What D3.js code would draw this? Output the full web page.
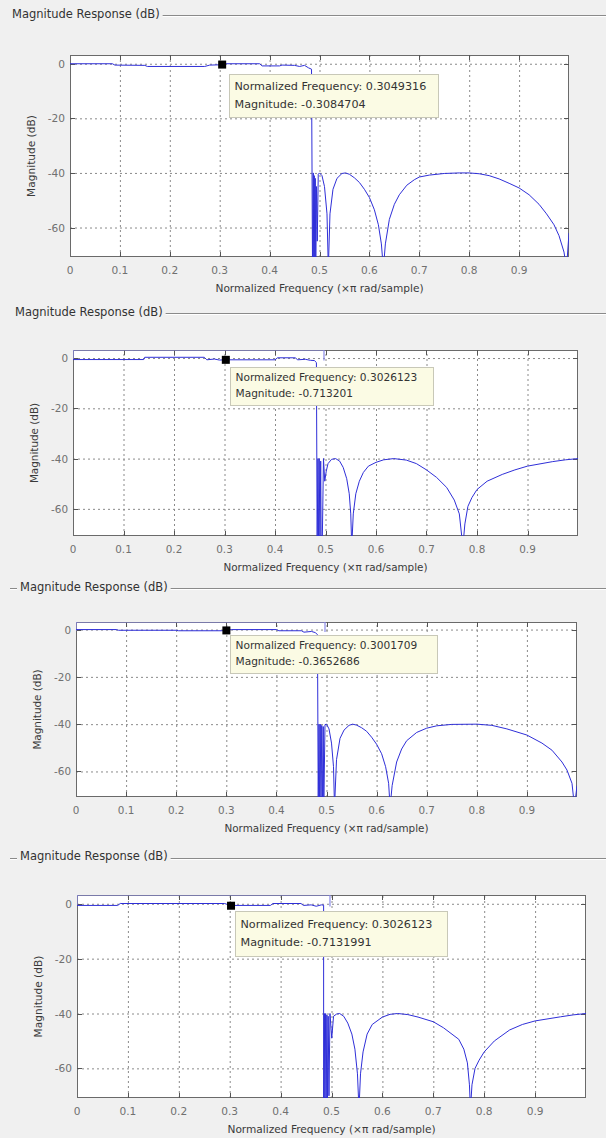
<!DOCTYPE html>
<html>
<head>
<meta charset="utf-8">
<script src="https://cdn.jsdelivr.net/npm/d3@7/dist/d3.min.js"></script>
<style>
  html, body { margin: 0; padding: 0; background: #f0f0f0; }
  svg { display: block; }
  text { font-family: "DejaVu Sans", sans-serif; }
</style>
</head>
<body>
<div id="chart"></div>
<script>
// axis ticks
var xTicks = [0, 0.1, 0.2, 0.3, 0.4, 0.5, 0.6, 0.7, 0.8, 0.9];
var yTicks = [0, -20, -40, -60];
var yDomain = [-70.8, 3.2];

var titleText = "Magnitude Response (dB)";
var xLabelText = "Normalized Frequency (\u00d7\u03c0 rad/sample)";
var yLabelText = "Magnitude (dB)";

// panel 1
var p1Freq = [0, 0.085, 0.09, 0.15, 0.155, 0.27, 0.28, 0.3, 0.305, 0.31, 0.38, 0.385, 0.42, 0.425, 0.45, 0.46, 0.47, 0.478, 0.484,
  0.486, 0.4875, 0.4885, 0.4895, 0.4905, 0.4915, 0.4925, 0.494, 0.4955, 0.4975, 0.5, 0.505, 0.51, 0.515, 0.5177,
  0.521, 0.527, 0.535, 0.545, 0.552, 0.56, 0.57, 0.58, 0.59, 0.6, 0.61, 0.618, 0.624, 0.628,
  0.632, 0.64, 0.65, 0.66, 0.675, 0.69, 0.7, 0.72, 0.75, 0.78, 0.8, 0.82, 0.84, 0.86, 0.88, 0.9, 0.92, 0.94, 0.955, 0.97, 0.98, 0.99, 0.995, 1.0];
var p1Mag = [0, 0, -0.5, -0.6, -1.0, -1.0, -0.5, -0.4, -0.31, 0, 0, -0.8, -0.8, -0.5, -0.6, -1.0, -0.6, -1.5, -2.0,
  -75, -40, -75, -41, -75, -42, -75, -45, -65, -40.5, -40, -41, -45, -55, -75,
  -55, -46, -42, -40.2, -40, -40.5, -41.8, -43.5, -46, -49, -53.5, -59, -66, -75,
  -66, -57, -51.5, -48, -44.5, -42.5, -41.5, -40.8, -40.2, -40, -40, -40.3, -41, -42.2, -43.8, -45.5, -48, -51.5, -55, -59, -63, -69, -75, -62];

// panel 2
var p2Freq = [0, 0.14, 0.142, 0.26, 0.265, 0.28, 0.29, 0.3026, 0.31, 0.4, 0.405, 0.44, 0.445, 0.46, 0.47, 0.478, 0.482,
  0.4835, 0.485, 0.486, 0.4875, 0.489, 0.4905, 0.4915, 0.4935, 0.496, 0.4985, 0.5015, 0.505, 0.512, 0.52, 0.528, 0.535, 0.542, 0.547, 0.55, 0.552,
  0.555, 0.56, 0.567, 0.575, 0.585, 0.6, 0.615, 0.635, 0.66, 0.68, 0.7, 0.72, 0.74, 0.755, 0.765, 0.772,
  0.776, 0.782, 0.79, 0.8, 0.82, 0.85, 0.875, 0.9, 0.95, 0.975, 1.0];
var p2Mag = [-0.6, -0.6, 0.3, 0.3, -0.7, -0.4, -0.8, -0.71, -0.7, -0.7, 0.1, 0.1, -0.7, -0.5, -0.9, -1.0, -1.8,
  -75, -40, -75, -40, -75, -41, -75, -75, -40, -49, -45, -42, -40.3, -40, -41, -43.5, -48, -54, -62, -75,
  -62, -54, -49, -45.5, -43, -41.5, -40.5, -40, -40.6, -42, -44.5, -47.5, -51.5, -56.5, -62, -75,
  -66, -59, -55.5, -52.3, -49, -46.3, -44.5, -43, -41.2, -40.5, -40];

// panel 3
var p3Freq = [0, 0.08, 0.085, 0.2, 0.205, 0.29, 0.3, 0.31, 0.4, 0.405, 0.45, 0.455, 0.47, 0.478, 0.482,
  0.4835, 0.485, 0.486, 0.4875, 0.489, 0.4905, 0.492, 0.4935, 0.4946, 0.497, 0.5, 0.505, 0.51, 0.514, 0.516,
  0.52, 0.527, 0.535, 0.545, 0.552, 0.56, 0.57, 0.58, 0.59, 0.6, 0.61, 0.618, 0.624, 0.627,
  0.631, 0.64, 0.65, 0.66, 0.68, 0.7, 0.72, 0.75, 0.8, 0.83, 0.86, 0.9, 0.93, 0.95, 0.97, 0.98, 0.99, 0.995, 1.0];
var p3Mag = [0, 0, -0.3, -0.3, -0.5, -0.5, -0.37, 0, 0, -0.5, -0.5, -1.1, -0.8, -1.3, -2.2,
  -75, -40, -75, -40, -75, -40.5, -75, -41, -75, -40.2, -40, -42, -48, -58, -75,
  -55, -46, -42.5, -40.5, -40, -40.4, -41.5, -43, -45.5, -48.5, -52.5, -58, -65, -75,
  -66, -56, -50.5, -47, -43.5, -41.7, -40.7, -40.1, -40, -40.5, -42, -44.6, -48, -51, -56, -59.4, -65, -75, -66];

// panel 4
var p4Freq = [0, 0.08, 0.085, 0.29, 0.3026, 0.31, 0.38, 0.385, 0.44, 0.445, 0.46, 0.47, 0.48, 0.4845,
  0.4846, 0.486, 0.487, 0.4885, 0.4895, 0.491, 0.492, 0.4935, 0.495, 0.497, 0.5005, 0.504, 0.51, 0.516, 0.524, 0.532, 0.54, 0.546, 0.551, 0.554,
  0.557, 0.562, 0.57, 0.58, 0.6, 0.615, 0.63, 0.65, 0.67, 0.7, 0.72, 0.75, 0.76, 0.767, 0.771, 0.773,
  0.776, 0.782, 0.79, 0.8, 0.82, 0.85, 0.875, 0.9, 0.95, 0.975, 1.0];
var p4Mag = [-0.6, -0.6, 0.1, 0.1, -0.71, -0.6, -0.6, 0.1, 0.1, -0.6, -0.4, -0.9, -0.4, -0.5,
  -75, -40, -72, -40, -72, -40.5, -72, -41, -70, -40, -49, -41, -40.2, -40, -41, -43.5, -47.5, -53, -62, -75,
  -62, -54, -47.5, -44, -41.3, -40.3, -40, -40.4, -41.3, -43, -45.2, -49.4, -53, -58, -66, -75,
  -66, -60, -57, -54, -50, -46, -44, -42.7, -41.2, -40.5, -40];

// faint trace that runs along the top of panels 2-4
var upperFreq = [0, 0, 0.497, 0.497];
var upperMag = [-0.6, 3.2, 3.2, -1];

// data tips
var tipFreq = [0.3049316, 0.3026123, 0.3001709, 0.3026123];
var tipMag = [-0.3084704, -0.713201, -0.3652686, -0.7131991];
var tipFreqText = ["0.3049316", "0.3026123", "0.3001709", "0.3026123"];
var tipMagText = ["-0.3084704", "-0.713201", "-0.3652686", "-0.7131991"];

var width = 606, height = 1138;

var panels = [
  { freq: p1Freq, mag: p1Mag, box: [70, 55, 569, 257], titleX: 12, titleY: 13.5, lead: false, upper: false,
    tip: { dx: 7, dy: 9, w: 209, h: 43, font: 11.2 }, font: 10.6 },
  { freq: p2Freq, mag: p2Mag, box: [73, 350, 578, 536], titleX: 15, titleY: 311.5, lead: false, upper: true,
    tip: { dx: 4, dy: 7, w: 203, h: 38, font: 10.6 }, font: 10.4 },
  { freq: p3Freq, mag: p3Mag, box: [76, 622, 577, 797], titleX: 20, titleY: 586.5, lead: true, upper: true,
    tip: { dx: 4, dy: 5, w: 207, h: 38, font: 10.6 }, font: 10.4 },
  { freq: p4Freq, mag: p4Mag, box: [77, 895, 586, 1098], titleX: 20, titleY: 856, lead: true, upper: true,
    tip: { dx: 4, dy: 5, w: 212, h: 45, font: 11.2 }, font: 10.6 }
];

var svg = d3.select("#chart")
  .append("svg")
  .attr("width", width)
  .attr("height", height);

svg.append("rect")
  .attr("width", width)
  .attr("height", height)
  .attr("fill", "#f0f0f0");

panels.forEach(function (p, i) {
  var left = p.box[0], top = p.box[1], right = p.box[2], bottom = p.box[3];
  var w = right - left, h = bottom - top;

  var x = d3.scaleLinear().domain([0, 1]).range([left, right]);
  var y = d3.scaleLinear().domain(yDomain).range([bottom, top]);

  var g = svg.append("g").attr("class", "panel");

  // group box title with etched line
  var title = g.append("text")
    .attr("x", p.titleX)
    .attr("y", p.titleY + 4)
    .attr("font-size", 11.5)
    .attr("fill", "#333")
    .text(titleText);
  var tEnd = p.titleX + title.node().getComputedTextLength() + 3;
  var ly = Math.round(p.titleY + 1.5) + 0.5;
  var segs = [[tEnd, width]];
  if (p.lead) segs.push([10, p.titleX - 3]);
  segs.forEach(function (s) {
    g.append("line").attr("x1", s[0]).attr("x2", s[1]).attr("y1", ly).attr("y2", ly)
      .attr("stroke", "#8a8a8a");
    g.append("line").attr("x1", s[0]).attr("x2", s[1]).attr("y1", ly + 1).attr("y2", ly + 1)
      .attr("stroke", "#ffffff");
  });

  // plot area
  g.append("rect")
    .attr("x", left).attr("y", top)
    .attr("width", w).attr("height", h)
    .attr("fill", "#ffffff");

  // grid
  g.append("g")
    .attr("transform", "translate(0," + bottom + ")")
    .call(d3.axisBottom(x).tickValues(xTicks.slice(1)).tickSize(-h).tickFormat(""))
    .call(function (a) {
      a.select(".domain").remove();
      a.selectAll("line").attr("stroke", "#8a8a8a").attr("stroke-dasharray", "2,3");
    });
  g.append("g")
    .attr("transform", "translate(" + left + ",0)")
    .call(d3.axisLeft(y).tickValues(yTicks).tickSize(-w).tickFormat(""))
    .call(function (a) {
      a.select(".domain").remove();
      a.selectAll("line").attr("stroke", "#8a8a8a").attr("stroke-dasharray", "2,3");
    });

  // curve
  var clipId = "clip" + i;
  g.append("clipPath").attr("id", clipId)
    .append("rect").attr("x", left).attr("y", top).attr("width", w).attr("height", h);

  var line = d3.line()
    .x(function (d) { return x(d[0]); })
    .y(function (d) { return y(d[1]); });

  var pts = p.freq.map(function (f, k) { return [f, p.mag[k]]; });

  // box
  g.append("rect")
    .attr("x", left + 0.5).attr("y", top + 0.5)
    .attr("width", w - 1).attr("height", h - 1)
    .attr("fill", "none")
    .attr("stroke", "#6a6a6a");

  // inner tick marks
  var tk = g.append("g").attr("stroke", "#555");
  xTicks.slice(1).forEach(function (t) {
    var xx = Math.round(x(t)) + 0.5;
    tk.append("line").attr("x1", xx).attr("x2", xx).attr("y1", bottom).attr("y2", bottom - 5);
    tk.append("line").attr("x1", xx).attr("x2", xx).attr("y1", top).attr("y2", top + 5);
  });
  yTicks.forEach(function (t) {
    var yy = Math.round(y(t)) + 0.5;
    tk.append("line").attr("x1", left).attr("x2", left + 5).attr("y1", yy).attr("y2", yy);
    tk.append("line").attr("x1", right).attr("x2", right - 5).attr("y1", yy).attr("y2", yy);
  });

  if (p.upper) {
    var up = upperFreq.map(function (f, k) { return [f, upperMag[k]]; });
    g.append("path")
      .attr("d", line(up))
      .attr("clip-path", "url(#" + clipId + ")")
      .attr("fill", "none")
      .attr("stroke", "#8a8ae8")
      .attr("stroke-width", 1.2);
  }

  g.append("path")
    .attr("d", line(pts))
    .attr("clip-path", "url(#" + clipId + ")")
    .attr("fill", "none")
    .attr("stroke", "#2f2fd8")
    .attr("stroke-width", 1)
    .attr("stroke-linejoin", "round");

  // tick labels
  g.append("g").selectAll("text")
    .data(xTicks)
    .join("text")
    .attr("x", function (d) { return x(d); })
    .attr("y", bottom + 17)
    .attr("text-anchor", "middle")
    .attr("font-size", p.font)
    .attr("fill", "#707070")
    .text(function (d) { return d3.format("")(d); });

  g.append("g").selectAll("text")
    .data(yTicks)
    .join("text")
    .attr("x", left - 5)
    .attr("y", function (d) { return y(d) + 4; })
    .attr("text-anchor", "end")
    .attr("font-size", p.font)
    .attr("fill", "#707070")
    .text(function (d) { return d; });

  // axis labels
  g.append("text")
    .attr("x", (left + right) / 2)
    .attr("y", bottom + 35)
    .attr("text-anchor", "middle")
    .attr("font-size", p.font)
    .attr("fill", "#3a3a3a")
    .text(xLabelText);

  g.append("text")
    .attr("transform", "translate(" + (left - 35) + "," + ((top + bottom) / 2) + ") rotate(-90)")
    .attr("text-anchor", "middle")
    .attr("font-size", p.font)
    .attr("fill", "#3a3a3a")
    .text(yLabelText);

  // data tip
  var mx = x(tipFreq[i]), my = y(tipMag[i]);
  var bx = Math.round(mx + p.tip.dx) + 0.5, by = Math.round(my + p.tip.dy) + 0.5;
  g.append("rect")
    .attr("x", bx).attr("y", by)
    .attr("width", p.tip.w).attr("height", p.tip.h)
    .attr("fill", "#fbfbe4")
    .attr("stroke", "#c8c8b8");
  g.append("text")
    .attr("x", bx + 5)
    .attr("y", by + p.tip.h * 0.36)
    .attr("font-size", p.tip.font)
    .attr("fill", "#333")
    .text("Normalized Frequency: " + tipFreqText[i]);
  g.append("text")
    .attr("x", bx + 5)
    .attr("y", by + p.tip.h * 0.77)
    .attr("font-size", p.tip.font)
    .attr("fill", "#333")
    .text("Magnitude: " + tipMagText[i]);

  g.append("rect")
    .attr("x", mx - 4).attr("y", my - 4)
    .attr("width", 8).attr("height", 8)
    .attr("fill", "#000");
});
</script>
</body>
</html>
